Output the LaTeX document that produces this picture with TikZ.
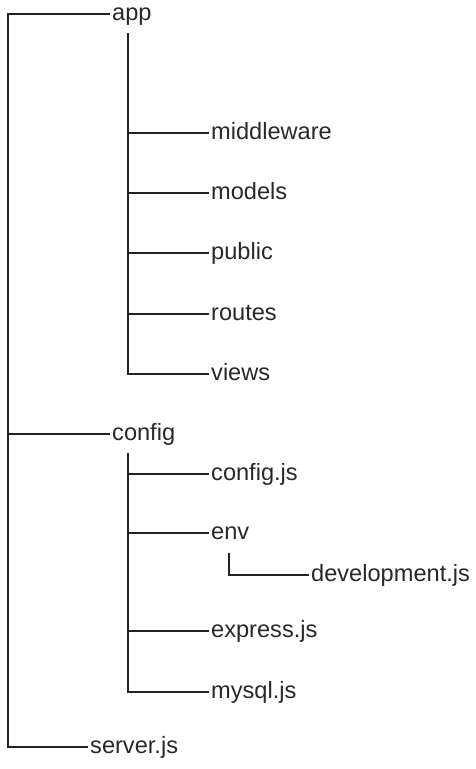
\documentclass[tikz,border=0pt]{standalone}
\usepackage{fontspec}
\setmainfont{Liberation Sans}
\usetikzlibrary{positioning}
\definecolor{treeline}{RGB}{34, 34, 34}
\definecolor{treetext}{RGB}{40, 40, 40}

\begin{document}
\begin{tikzpicture}[x=1pt, y=-1pt,
        entry/.style={anchor=west, inner xsep=2pt, inner ysep=0pt, text=treetext,
            font=\fontsize{23.6}{26}\selectfont, text height=17pt, text depth=5pt},
        branch/.style={draw=treeline, line width=1.8pt}]
        \useasboundingbox (0,0) rectangle (476,769);
        % Top level
        \node[entry] (app) at (110,14) {app};
        \node[entry] (config) at (110,434) {config};
        \node[entry] (server) at (88,747) {server.js};
        \coordinate (rootbar) at (8,14);
        \draw[branch] (app.west) -- (rootbar) |- (server.west);
        \draw[branch] (rootbar |- config.west) -- (config.west);
        % app folder
        \foreach \name/\label/\y in {mw/middleware/133, models/models/193,
            public/public/253, routes/routes/314, views/views/374} {
            \node[entry] (\name) at (209,\y) {\label};
        }
        \coordinate (appbar) at (128,33);
        \draw[branch] (appbar) |- (views.west);
        \foreach \name in {mw, models, public, routes} {
            \draw[branch] (appbar |- \name.west) -- (\name.west);
        }
        % config folder
        \foreach \name/\label/\y in {cfg/config.js/474, env/env/533,
            express/express.js/631, mysql/mysql.js/692} {
            \node[entry] (\name) at (209,\y) {\label};
        }
        \node[entry] (dev) at (309,575) {development.js};
        \coordinate (cfgbar) at (128,453);
        \draw[branch] (cfgbar) |- (mysql.west);
        \foreach \name in {cfg, env, express} {
            \draw[branch] (cfgbar |- \name.west) -- (\name.west);
        }
        \coordinate (envbar) at (229,553);
        \draw[branch] (envbar) |- (dev.west);
    \end{tikzpicture}
\end{document}
